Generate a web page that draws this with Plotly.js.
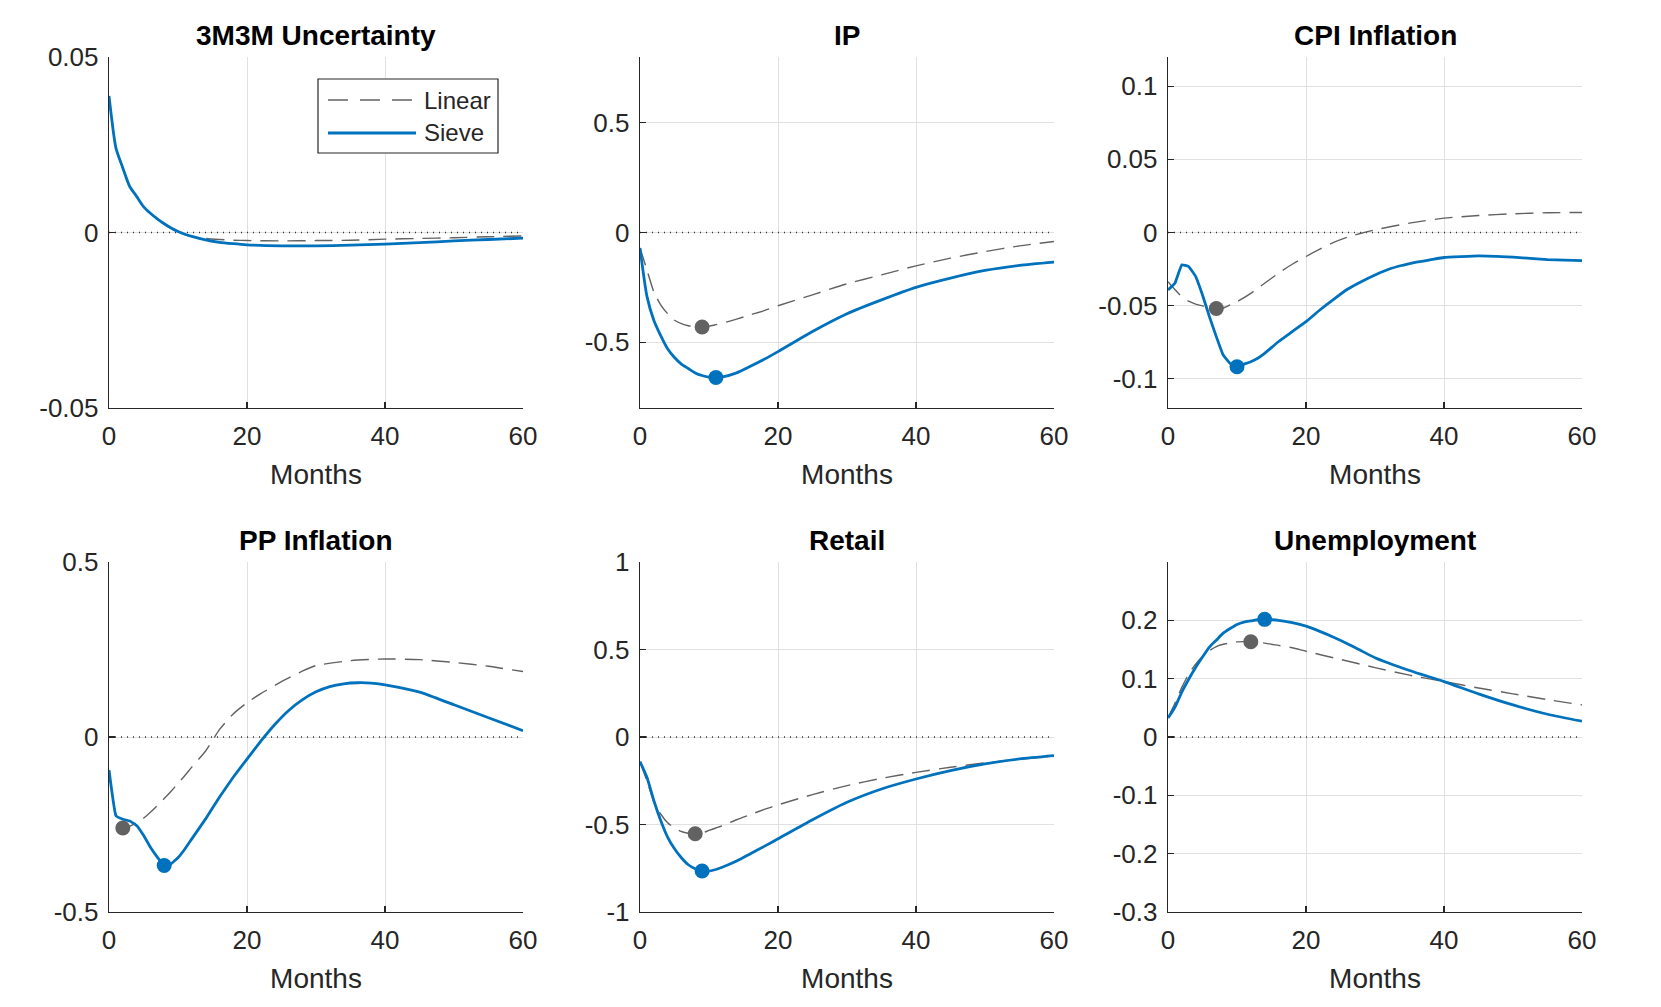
<!DOCTYPE html>
<html>
<head>
<meta charset="utf-8">
<script src="https://cdn.plot.ly/plotly-3.0.1.min.js"></script>
<style>
  html, body { margin: 0; padding: 0; background: #ffffff; }
  #chart { width: 1661px; height: 1007px; }
</style>
</head>
<body>
<div id="chart"></div>
<script>
// ---------------- DATA ----------------
const panelTitles = ["3M3M Uncertainty", "IP", "CPI Inflation", "PP Inflation", "Retail", "Unemployment"];
const xLabel = "Months";
const seriesNames = ["Linear", "Sieve"];
const monthTicks = [0, 20, 40, 60];
const zeroMonths = [0, 60];
const zeroValues = [0, 0];

// 3M3M Uncertainty
const uncMonths = [0,1,2,3,4,5,6,7,8,9,10,11,12,14,16,18,20,25,30,35,40,45,50,55,60];
const uncSieve  = [0.0389,0.0241,0.0184,0.0131,0.0103,0.0074,0.0055,0.0039,0.0025,0.0013,0.0003,-0.0005,-0.0011,-0.0021,-0.0028,-0.0032,-0.0035,-0.0038,-0.0038,-0.0036,-0.0033,-0.0029,-0.0024,-0.0020,-0.0016];
const uncLinear = [0.0385,0.0240,0.0183,0.0130,0.0102,0.0073,0.0054,0.0038,0.0024,0.0012,0.0002,-0.0006,-0.0011,-0.0017,-0.0020,-0.0022,-0.0023,-0.0024,-0.0023,-0.0022,-0.0019,-0.0017,-0.0015,-0.0012,-0.0010];
const uncTicks = [-0.05, 0, 0.05];
const uncTickText = ["-0.05", "0", "0.05"];

// IP
const ipMonths = [0,1,2,3,4,5,6,7,8,9,10,11,12,14,16,18,20,25,30,35,40,45,50,55,60];
const ipSieve  = [-0.071,-0.29,-0.40,-0.47,-0.53,-0.57,-0.60,-0.62,-0.64,-0.652,-0.659,-0.661,-0.658,-0.64,-0.61,-0.578,-0.543,-0.451,-0.37,-0.307,-0.25,-0.208,-0.173,-0.15,-0.135];
const ipLinear = [-0.07,-0.17,-0.27,-0.33,-0.37,-0.40,-0.415,-0.425,-0.43,-0.431,-0.427,-0.42,-0.413,-0.395,-0.375,-0.356,-0.334,-0.284,-0.234,-0.193,-0.152,-0.117,-0.087,-0.061,-0.041];
const ipTicks = [-0.5, 0, 0.5];
const ipTickText = ["-0.5", "0", "0.5"];

// CPI Inflation
const cpiSieveMonths = [0,1,2,3,4,5,6,7,8,9,10,11,12,13,14,16,18,20,22,24,26,28,30,32,34,36,38,40,45,50,55,60];
const cpiSieve = [-0.0393,-0.0347,-0.0221,-0.0233,-0.030,-0.0427,-0.0575,-0.0712,-0.0838,-0.0895,-0.0918,-0.090,-0.0884,-0.086,-0.0826,-0.0747,-0.0678,-0.061,-0.053,-0.0457,-0.0388,-0.0336,-0.029,-0.0251,-0.0224,-0.0203,-0.0187,-0.0171,-0.016,-0.0169,-0.0185,-0.0192];
const cpiLinearMonths = [0,1,2,3,4,5,6,7,8,9,10,12,14,16,18,20,22,24,26,28,30,35,40,45,50,55,60];
const cpiLinear = [-0.0336,-0.039,-0.044,-0.047,-0.049,-0.0502,-0.0511,-0.052,-0.0516,-0.0495,-0.0473,-0.0416,-0.0347,-0.0279,-0.0217,-0.0164,-0.0114,-0.0068,-0.0032,-0.0005,0.0018,0.0064,0.0098,0.0116,0.0128,0.0135,0.0137];
const cpiTicks = [-0.1, -0.05, 0, 0.05, 0.1];
const cpiTickText = ["-0.1", "-0.05", "0", "0.05", "0.1"];

// PP Inflation
const ppSieveMonths = [0,1,2,3,4,5,6,7,8,9,10,11,12,14,16,18,20,22,24,26,28,30,32,34,36,38,40,42,44,46,50,55,60];
const ppSieve = [-0.094,-0.225,-0.235,-0.24,-0.253,-0.281,-0.315,-0.343,-0.367,-0.362,-0.345,-0.32,-0.291,-0.234,-0.172,-0.115,-0.063,-0.012,0.035,0.075,0.106,0.129,0.144,0.152,0.155,0.154,0.149,0.142,0.133,0.122,0.092,0.055,0.018];
const ppLinearMonths = [0,1,2,3,4,5,6,7,8,9,10,11,12,14,16,18,20,22,25,28,30,35,40,45,50,55,60];
const ppLinear = [-0.10,-0.22,-0.26,-0.255,-0.245,-0.232,-0.215,-0.196,-0.176,-0.155,-0.133,-0.11,-0.086,-0.04,0.021,0.066,0.098,0.124,0.158,0.188,0.204,0.218,0.223,0.221,0.213,0.202,0.187];
const ppTicks = [-0.5, 0, 0.5];
const ppTickText = ["-0.5", "0", "0.5"];

// Retail
const rtMonths = [0,1,2,3,4,5,6,7,8,9,10,11,12,14,16,18,20,25,30,35,40,45,50,55,60];
const rtSieve  = [-0.141,-0.23,-0.363,-0.477,-0.572,-0.639,-0.69,-0.73,-0.753,-0.766,-0.766,-0.757,-0.743,-0.709,-0.667,-0.625,-0.582,-0.473,-0.373,-0.297,-0.24,-0.192,-0.154,-0.125,-0.106];
const rtLinear = [-0.141,-0.25,-0.37,-0.44,-0.49,-0.52,-0.54,-0.55,-0.553,-0.549,-0.534,-0.52,-0.506,-0.473,-0.443,-0.414,-0.388,-0.329,-0.278,-0.236,-0.202,-0.173,-0.148,-0.127,-0.108];
const rtTicks = [-1, -0.5, 0, 0.5, 1];
const rtTickText = ["-1", "-0.5", "0", "0.5", "1"];

// Unemployment
const unSieveMonths = [0,1,2,3,4,5,6,7,8,9,10,11,12,13,14,15,16,18,20,22,24,26,28,30,35,40,45,50,55,60];
const unSieve = [0.0326,0.051,0.077,0.099,0.119,0.137,0.154,0.166,0.178,0.186,0.193,0.197,0.199,0.201,0.2017,0.201,0.2,0.196,0.19,0.181,0.171,0.16,0.148,0.136,0.114,0.095,0.074,0.055,0.039,0.027];
const unLinearMonths = [0,1,2,3,4,5,6,7,8,9,10,11,12,14,16,18,20,25,30,35,40,45,50,55,60];
const unLinear = [0.033,0.058,0.085,0.108,0.125,0.138,0.148,0.155,0.159,0.161,0.163,0.1635,0.1634,0.161,0.157,0.153,0.147,0.133,0.119,0.106,0.095,0.084,0.074,0.064,0.055];
const unTicks = [-0.3, -0.2, -0.1, 0, 0.1, 0.2];
const unTickText = ["-0.3", "-0.2", "-0.1", "0", "0.1", "0.2"];

// Peak (trough) markers: [month, value] per panel, null where none
const linearPeaks = [null, [9, -0.431], [7, -0.052], [2, -0.26], [8, -0.553], [12, 0.1634]];
const sievePeaks  = [null, [11, -0.661], [10, -0.0918], [8, -0.367], [9, -0.766], [14, 0.2017]];

const yRanges = [[-0.05, 0.05], [-0.8, 0.8], [-0.12, 0.12], [-0.5, 0.5], [-1, 1], [-0.3, 0.3]];

// ---------------- STYLE / LAYOUT ----------------
const W = 1661, H = 1007;
const BLUE = "#0072BD";
const GRAY = "#626262";
const AX = "#262626";
const FONT = "'Liberation Sans', Arial, Helvetica, sans-serif";
const DASH = "18px,9px";

const colPx = [[109, 523], [640, 1054], [1168, 1582]];
const rowPx = [[57, 408], [562, 912]];
// smoothing per panel (CPI / PP sieve have real kinks near the start)
const sieveSmooth = [0.6, 0.6, 0.25, 0.25, 0.6, 0.6];

const panels = [
  {sx: uncMonths, sy: uncSieve, lx: uncMonths, ly: uncLinear, tv: uncTicks, tt: uncTickText},
  {sx: ipMonths, sy: ipSieve, lx: ipMonths, ly: ipLinear, tv: ipTicks, tt: ipTickText},
  {sx: cpiSieveMonths, sy: cpiSieve, lx: cpiLinearMonths, ly: cpiLinear, tv: cpiTicks, tt: cpiTickText},
  {sx: ppSieveMonths, sy: ppSieve, lx: ppLinearMonths, ly: ppLinear, tv: ppTicks, tt: ppTickText},
  {sx: rtMonths, sy: rtSieve, lx: rtMonths, ly: rtLinear, tv: rtTicks, tt: rtTickText},
  {sx: unSieveMonths, sy: unSieve, lx: unLinearMonths, ly: unLinear, tv: unTicks, tt: unTickText}
];

const traces = [];
const layout = {
  width: W, height: H,
  margin: {l: 0, r: 0, t: 0, b: 0},
  paper_bgcolor: "#ffffff",
  plot_bgcolor: "#ffffff",
  showlegend: false,
  font: {family: FONT, size: 26, color: AX},
  annotations: [],
  shapes: []
};

panels.forEach((p, i) => {
  const n = i + 1;
  const xa = n === 1 ? "x" : "x" + n;
  const ya = n === 1 ? "y" : "y" + n;
  const col = colPx[i % 3], row = rowPx[Math.floor(i / 3)];
  const xd = [col[0] / W, col[1] / W];
  const yd = [1 - row[1] / H, 1 - row[0] / H];

  layout["xaxis" + (n === 1 ? "" : n)] = {
    domain: xd, anchor: ya, range: [0, 60],
    tickvals: monthTicks, ticktext: monthTicks.map(String),
    showgrid: true, gridcolor: "#e0e0e0", gridwidth: 1,
    zeroline: false, showline: true, linecolor: AX, linewidth: 1.3, mirror: false,
    ticks: "inside", ticklen: 6, tickwidth: 1.2, tickcolor: AX,
    ticklabelstandoff: 4,
    tickfont: {family: FONT, size: 26, color: AX},
    title: {text: xLabel, font: {family: FONT, size: 28, color: AX}, standoff: 15},
    fixedrange: true
  };
  layout["yaxis" + (n === 1 ? "" : n)] = {
    domain: yd, anchor: xa, range: yRanges[i],
    tickvals: p.tv, ticktext: p.tt,
    showgrid: true, gridcolor: "#e0e0e0", gridwidth: 1,
    zeroline: false, showline: true, linecolor: AX, linewidth: 1.3, mirror: false,
    ticks: "inside", ticklen: 6, tickwidth: 1.2, tickcolor: AX,
    ticklabelstandoff: 4,
    tickfont: {family: FONT, size: 26, color: AX},
    fixedrange: true
  };

  // zero reference line
  traces.push({x: zeroMonths, y: zeroValues, xaxis: xa, yaxis: ya, mode: "lines",
    line: {color: "#333333", width: 1.4, dash: "1px,5px"}, hoverinfo: "skip", showlegend: false});
  // linear (dashed)
  traces.push({x: p.lx, y: p.ly, xaxis: xa, yaxis: ya, mode: "lines", name: seriesNames[0],
    line: {color: GRAY, width: 1.4, dash: DASH, shape: "spline", smoothing: 0.6}, showlegend: false});
  // sieve (solid)
  traces.push({x: p.sx, y: p.sy, xaxis: xa, yaxis: ya, mode: "lines", name: seriesNames[1],
    line: {color: BLUE, width: 2.8, shape: "spline", smoothing: sieveSmooth[i]}, showlegend: false});
  // markers
  if (linearPeaks[i]) {
    traces.push({x: [linearPeaks[i][0]], y: [linearPeaks[i][1]], xaxis: xa, yaxis: ya, mode: "markers",
      marker: {color: GRAY, size: 15, line: {width: 0}}, showlegend: false, name: seriesNames[0] + " peak"});
  }
  if (sievePeaks[i]) {
    traces.push({x: [sievePeaks[i][0]], y: [sievePeaks[i][1]], xaxis: xa, yaxis: ya, mode: "markers",
      marker: {color: BLUE, size: 15, line: {width: 0}}, showlegend: false, name: seriesNames[1] + " peak"});
  }

  // panel title
  layout.annotations.push({
    text: "<b>" + panelTitles[i] + "</b>", xref: "paper", yref: "paper",
    x: (xd[0] + xd[1]) / 2, y: yd[1], xanchor: "center", yanchor: "bottom", yshift: 4,
    showarrow: false, font: {family: FONT, size: 28, color: "#000000"}
  });
});

// Legend (first panel) built in paper coordinates
const lg = {x0: 318, x1: 498, y0: 79, y1: 153, lineX0: 328, lineX1: 416, textX: 422, rowY: [100, 133]};
layout.shapes.push({type: "rect", xref: "paper", yref: "paper",
  x0: lg.x0 / W, x1: lg.x1 / W, y0: 1 - lg.y1 / H, y1: 1 - lg.y0 / H,
  line: {color: AX, width: 1.2}, fillcolor: "#ffffff", layer: "above"});
layout.shapes.push({type: "line", xref: "paper", yref: "paper",
  x0: lg.lineX0 / W, x1: lg.lineX1 / W, y0: 1 - lg.rowY[0] / H, y1: 1 - lg.rowY[0] / H,
  line: {color: GRAY, width: 1.4, dash: "20px,12px"}, layer: "above"});
layout.shapes.push({type: "line", xref: "paper", yref: "paper",
  x0: lg.lineX0 / W, x1: lg.lineX1 / W, y0: 1 - lg.rowY[1] / H, y1: 1 - lg.rowY[1] / H,
  line: {color: BLUE, width: 2.8}, layer: "above"});
seriesNames.forEach((nm, k) => {
  layout.annotations.push({text: nm, xref: "paper", yref: "paper",
    x: lg.textX / W, y: 1 - lg.rowY[k] / H, xanchor: "left", yanchor: "middle",
    showarrow: false, font: {family: FONT, size: 24, color: AX}});
});

Plotly.newPlot("chart", traces, layout, {displayModeBar: false, staticPlot: true});
</script>
</body>
</html>
